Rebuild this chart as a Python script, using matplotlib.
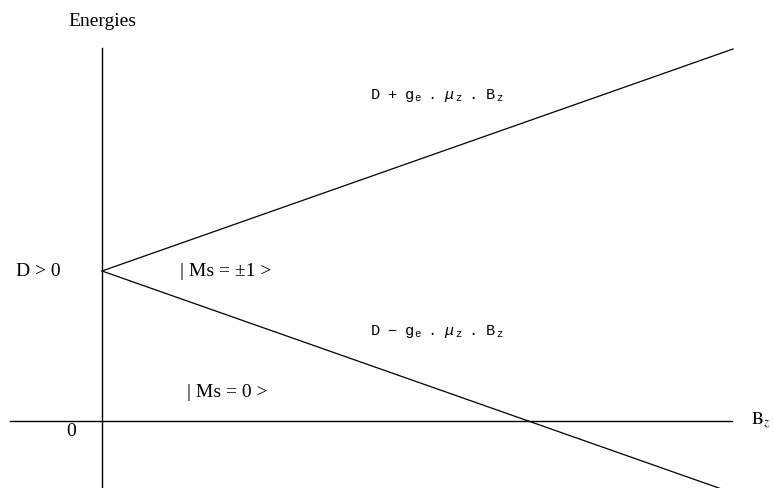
import matplotlib
matplotlib.use("Agg")
import matplotlib.pyplot as plt

plt.rcParams['font.family'] = ['Liberation Serif', 'DejaVu Serif']
plt.rcParams['mathtext.fontset'] = 'custom'
plt.rcParams['mathtext.rm'] = 'Liberation Mono'
plt.rcParams['mathtext.it'] = 'Liberation Mono:italic'
plt.rcParams['mathtext.bf'] = 'Liberation Mono:bold'

# Zero-field splitting D and Zeeman slope g_e.mu_z (arbitrary units)
D = 1.0
g_mu = 1.48
B_field = [0.0, 1.0]

E_plus = [D + g_mu * b for b in B_field]
E_minus = [D - g_mu * b for b in B_field]

fig = plt.figure(figsize=(7.74, 4.88), dpi=100)
ax = fig.add_axes([0, 0, 1, 1])
ax.set_xlim(-102 / 631, 672 / 631)
ax.set_ylim(-67 / 150, 421 / 150)
ax.axis('off')

# axes drawn as plain lines
ax.plot([-0.146, 0.998], [0, 0], color='black', lw=1.0)
ax.plot([0, 0], [-0.6, 2.487], color='black', lw=1.0)

# energy levels
ax.plot(B_field, E_plus, color='black', lw=0.9)
ax.plot(B_field, E_minus, color='black', lw=0.9)

serif = dict(fontsize=14, color='black')
ax.text(0, 2.66, 'Energies', ha='center', va='center', **serif)
ax.text(-0.065, D, 'D > 0', ha='right', va='center', **serif)
ax.text(0.124, D, '| Ms = ±1 >', ha='left', va='center', **serif)
ax.text(0.135, 0.187, '| Ms = 0 >', ha='left', va='center', **serif)
ax.text(-0.049, -0.073, '0', ha='center', va='center', **serif)
ax.text(1.029, 0.0, r'$\mathrm{B}_{z}$', ha='left', va='center',
        math_fontfamily='stix', fontsize=13)


def zeeman_label(sign):
    sp = r'\ \ '
    return (r'$\mathrm{D' + sp + sign + sp + r'g}\,_{\mathrm{e}}' + sp + r'\mathrm{.}' + sp
            + r'\mu\,_{\mathrm{z}}' + sp + r'\mathrm{.}' + sp + r'\mathrm{B}\,_{\mathrm{z}}$')


ax.text(0.531, 2.17, zeeman_label('+'), ha='center', va='center', fontsize=11)
ax.text(0.531, 0.6, zeeman_label('-'), ha='center', va='center', fontsize=11)

fig.savefig('out.png', dpi=100)
